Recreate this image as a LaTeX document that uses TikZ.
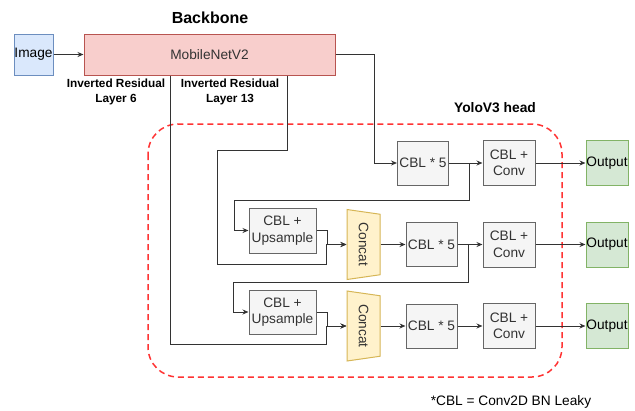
\documentclass[tikz,border=0pt]{standalone}
\usepackage{fontspec}
\setmainfont{Liberation Sans}
\usetikzlibrary{arrows.meta,shapes.geometric,calc}
\definecolor{cIn}{HTML}{DAE8FC}
\definecolor{cInL}{HTML}{6C8EBF}
\definecolor{cNet}{HTML}{F8CECC}
\definecolor{cNetL}{HTML}{B85450}
\definecolor{cBox}{HTML}{F5F5F5}
\definecolor{cBoxL}{HTML}{666666}
\definecolor{cCat}{HTML}{FFF2CC}
\definecolor{cCatL}{HTML}{D6B656}
\definecolor{cOut}{HTML}{D5E8D4}
\definecolor{cOutL}{HTML}{82B366}
\definecolor{cHead}{HTML}{FF3333}
\definecolor{ink}{HTML}{333333}
\tikzset{
  txt/.style={font=\fontsize{13.7}{16.5}\selectfont},
  blk/.style={txt,draw=cBoxL,fill=cBox,text=ink,line width=1pt,inner sep=0pt,align=center},
  catbox/.style={txt,trapezium,trapezium angle=64,trapezium stretches body,minimum width=70pt,minimum height=33pt,
    rotate=-90,draw=cCatL,fill=cCat,text=ink,line width=1pt,inner sep=0pt},
  tag/.style={font=\fontsize{11.8}{15.5}\selectfont\bfseries,align=center},
  wire/.style={draw=ink,line width=1pt},
  link/.style={wire,-{Stealth[length=6pt,width=5pt]}}}

\begin{document}
\begin{tikzpicture}[x=1pt,y=-1pt]
  \useasboundingbox (0,0) rectangle (635,410);
  \draw[cHead,line width=1.5pt,dash pattern=on 6pt off 4pt,rounded corners=30pt] (148,124) rectangle (562,377);
  \node[font=\fontsize{16}{18}\selectfont\bfseries] (bbtitle) at (210,18) {Backbone};
  \node[font=\fontsize{13.8}{16}\selectfont\bfseries] (hdtitle) at (495,108) {YoloV3 head};
  \node[blk,draw=cInL,fill=cIn,text=black,minimum width=39pt,minimum height=41pt] (img) at (33.5,54.5) {Image};
  \node[blk,draw=cNetL,fill=cNet,minimum width=251pt,minimum height=41pt] (mnet) at (209.5,54.5) {MobileNetV2};
  \node[tag] (lbl6) at (116,92) {Inverted Residual\\Layer 6};
  \node[tag] (lbl13) at (230,92) {Inverted Residual\\Layer 13};
  \foreach \r/\y/\x in {1/163/423,2/244.5/431.5,3/326/431.5} {
    \node[blk,minimum width=51pt,minimum height=44pt] (cbl\r) at (\x,\y) {CBL * 5};
    \node[blk,minimum width=52pt,minimum height=45pt] (conv\r) at (509,\y) {CBL +\\Conv};
    \node[blk,draw=cOutL,fill=cOut,text=black,minimum width=42pt,minimum height=45pt] (out\r) at (607,\y) {Output};
  }
  \node[blk,minimum width=67pt,minimum height=45pt] (up1) at (282.5,230.5) {CBL +\\Upsample};
  \node[blk,minimum width=67pt,minimum height=44pt] (up2) at (282.5,312) {CBL +\\Upsample};
  \node[catbox] (cat1) at (363.5,244.5) {Concat};
  \node[catbox] (cat2) at (363.5,326) {Concat};
  \node[txt] (note) at (511,402) {*CBL = Conv2D BN Leaky};
  \coordinate (tap6) at ($(mnet.south west)+(87,0)$);
  \coordinate (tap13) at ($(mnet.south west)+(204,0)$);
  % backbone into the head
  \draw[link] (img) -- (mnet);
  \draw[link] (mnet.east) -- ++(39,0) |- (cbl1.west);
  \draw[link] (tap13) |- ++(-70,75) |- ++(109,114) |- (cat1.bottom side);
  \draw[link] (tap6) |- ++(156,269) |- (cat2.bottom side);
  % three scales
  \foreach \r in {1,2,3} {
    \draw[link] (cbl\r) -- (conv\r);
    \draw[link] (conv\r) -- (out\r);
  }
  \draw[link] (cbl1.east) -- ++(20,0) |- ++(-235,37) |- (up1.west);
  \draw[link] (cbl2.east) -- ++(11,0) |- ++(-235,37.5) |- (up2.west);
  \draw[link] (up1.east) -- ++(11,0) |- (cat1.bottom side);
  \draw[link] (up2.east) -- ++(11,0) |- (cat2.bottom side);
  \draw[link] (cat1.top side) -- (cbl2.west);
  \draw[link] (cat2.top side) -- (cbl3.west);
\end{tikzpicture}
\end{document}
